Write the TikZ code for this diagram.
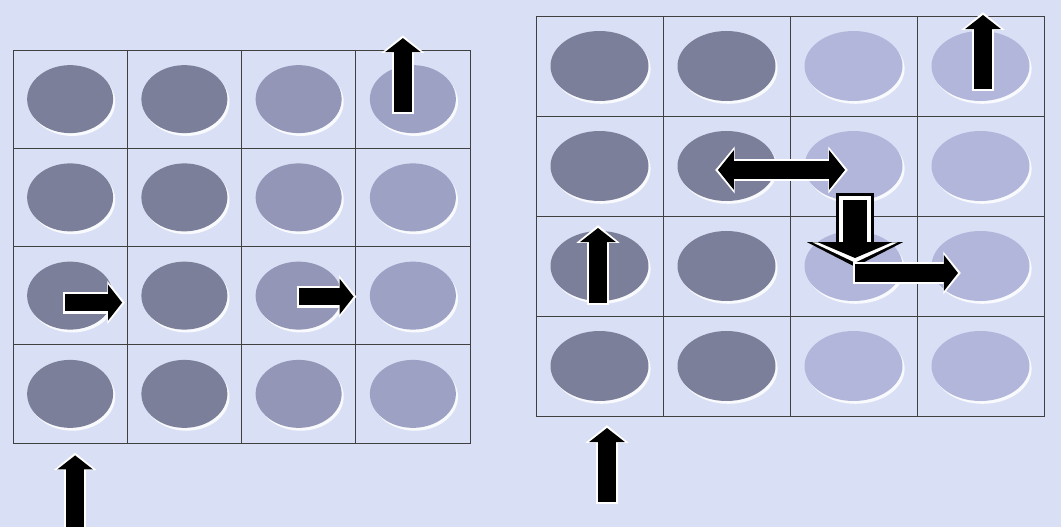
\documentclass[tikz,border=0pt]{standalone}
\usepackage{xcolor}
\usepackage{tikz}
\usetikzlibrary{arrows.meta,positioning,shapes.geometric,shadows,calc}

\definecolor{paper}{RGB}{217,223,245}
\definecolor{discdark}{RGB}{124,127,153}
\definecolor{discmid}{RGB}{147,150,182}
\definecolor{disclight}{RGB}{157,161,196}
\definecolor{discpale}{RGB}{178,182,218}

\begin{document}
\begin{tikzpicture}[
  x=0.02cm, y=-0.02cm,
  lcell/.style={draw=black!75, line width=0.5pt, minimum width=2.285cm, minimum height=1.965cm, inner sep=0pt},
  rcell/.style={draw=black!75, line width=0.5pt, minimum width=2.54cm, minimum height=2cm, inner sep=0pt},
  disc/.style={ellipse, inner sep=0pt,
    drop shadow={shadow xshift=1.2pt, shadow yshift=-1.6pt, fill=white, opacity=0.85}},
  ldisc/.style={disc, minimum width=1.72cm, minimum height=1.36cm},
  rdisc/.style={disc, minimum width=1.96cm, minimum height=1.40cm},
  blk/.style={line width=10pt, -{Triangle[length=8pt,width=20pt]},
    preaction={draw=white, line width=12.5pt, -{Triangle[length=10pt,width=24pt]},
      shorten >=-1.6pt, shorten <=-1.2pt}},
  dblk/.style={line width=10pt, {Triangle[length=9pt,width=22pt]}-{Triangle[length=9pt,width=22pt]},
    preaction={draw=white, line width=12.5pt, {Triangle[length=11pt,width=26pt]}-{Triangle[length=11pt,width=26pt]},
      shorten >=-1.6pt, shorten <=-1.6pt}},
  hollow/.style={line width=14pt, -{Triangle[length=9pt,width=42pt]},
    preaction={draw=black, line width=22pt, -{Triangle[length=14pt,width=54pt]},
      shorten >=-5pt, shorten <=-4pt},
    preaction={draw=white, line width=18pt, -{Triangle[length=11.5pt,width=48pt]},
      shorten >=-2.6pt, shorten <=-2pt}},
]
\fill[paper] (0,0) rectangle (1061,527);
\useasboundingbox (0,0) rectangle (1061,527);

% Left board
\foreach \r in {1,...,4}
  \foreach \c/\col in {1/discdark,2/discdark,3/discmid,4/disclight} {
    \node[lcell] (L-\r-\c) at ({13+114.25*(\c-0.5)},{50+98.25*(\r-0.5)}) {};
    \node[ldisc, fill=\col] (LD-\r-\c) at (L-\r-\c) {};
  }

% Right board
\foreach \r in {1,...,4}
  \foreach \c/\col in {1/discdark,2/discdark,3/discpale,4/discpale} {
    \node[rcell] (R-\r-\c) at ({536+127*(\c-0.5)},{16+100*(\r-0.5)}) {};
    \node[rdisc, fill=\col] (RD-\r-\c) at (R-\r-\c) {};
  }

% Left moves
\draw[blk] ($(L-4-1.south)+(5,84)$) -- ($(L-4-1.south)+(5,12)$);
\draw[blk] ($(L-1-4)+(-10,13)$) -- ($(L-1-4)+(-10,-61)$);
\draw[blk] ($(L-3-1)+(-5,7)$) -- ($(L-3-1)+(52,7)$);
\draw[blk] ($(L-3-3)+(0,1)$) -- ($(L-3-3)+(55,1)$);

% Right moves
\draw[blk] ($(R-4-1)+(7.5,136)$) -- ($(R-4-1)+(7.5,62)$);
\draw[blk] ($(R-1-4)+(2.5,23)$) -- ($(R-1-4)+(2.5,-51)$);
\draw[blk] ($(R-3-1)+(-1.5,37)$) -- ($(R-3-1)+(-1.5,-38)$);
\draw[dblk] ($(R-2-2)+(-8.5,4)$) -- ($(R-2-2)+(118.5,4)$);
\draw[hollow] ($(R-2-3)+(1.5,34)$) -- ($(R-2-3)+(1.5,92)$);
\draw[blk] ($(R-3-3)+(1.5,7)$) -- ($(R-3-3)+(104.5,7)$);
\end{tikzpicture}
\end{document}
